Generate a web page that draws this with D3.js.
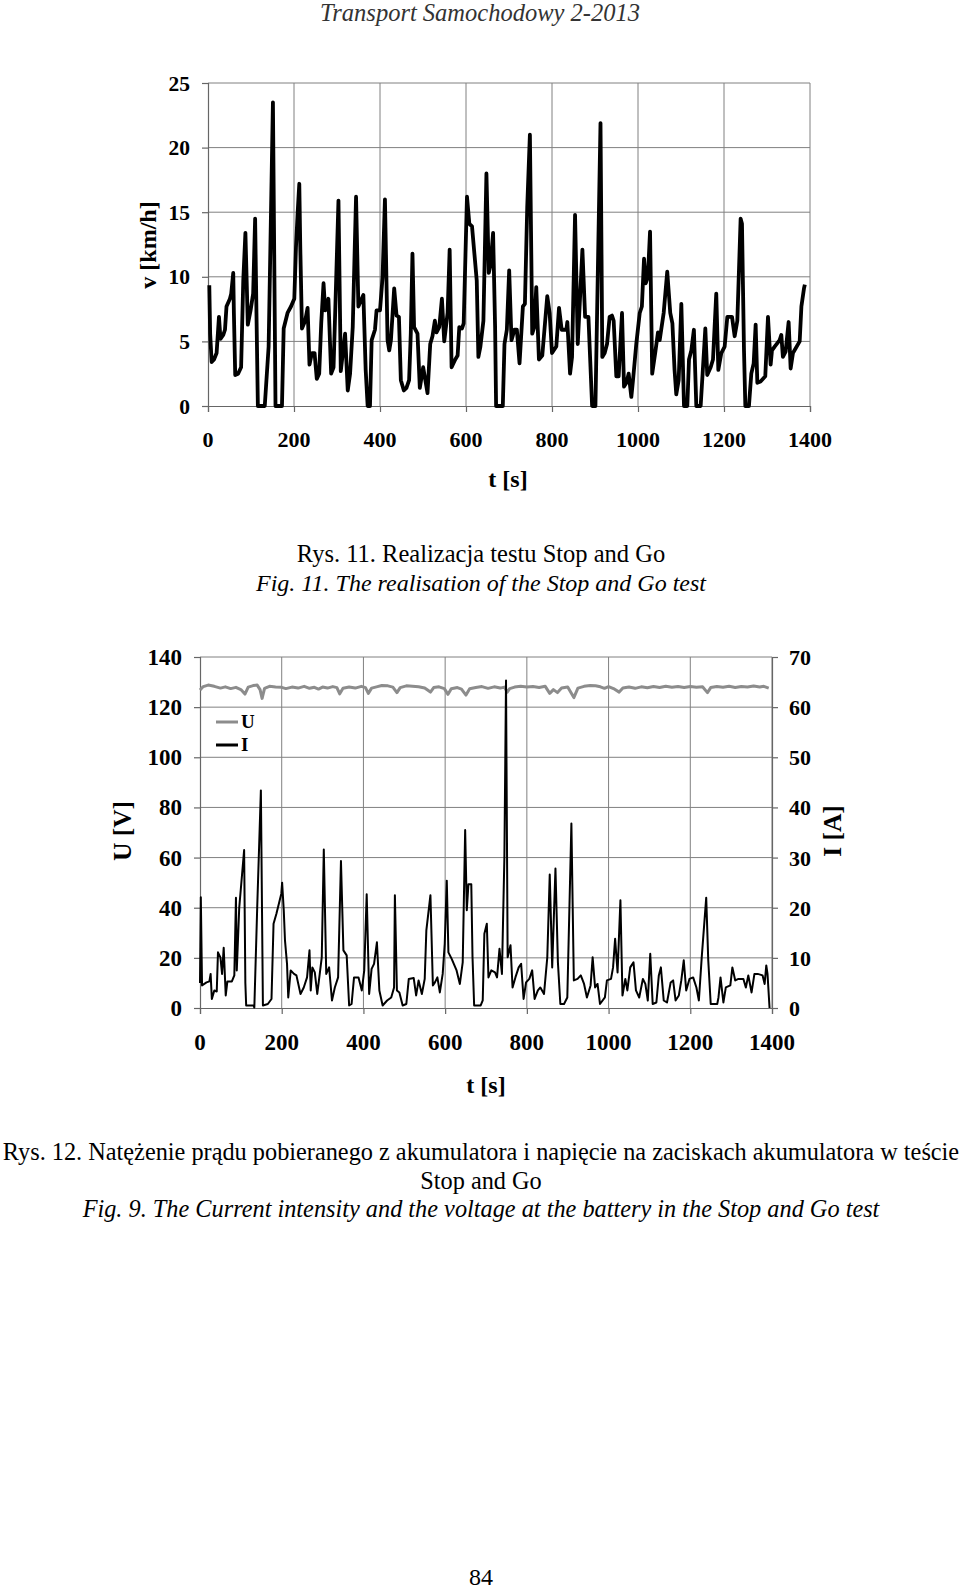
<!DOCTYPE html>
<html><head><meta charset="utf-8">
<script src="https://cdn.jsdelivr.net/npm/d3@7"></script>
<style>
body{margin:0;background:#fff}
svg text{font-family:"Liberation Serif","Times New Roman",serif;fill:#000}
</style></head>
<body><svg id="c" width="960" height="1589"></svg>
<script>
// ---------- Chart 1: speed ----------
const speedT=[3,5,8.5,14,20,25.5,29,35.5,39.5,43,51,54,58.7,60.2,63.3,70,77,82,87,92.6,99,105,109.6,112.7,116,132,141,151,157,172,176,185,193,200.7,204.6,208.4,212.3,214.6,218.5,226,231.6,236,241.6,247.8,253,258.6,263.3,268.7,272.5,280,286.4,292,298,303.4,308.8,318.8,325,330.4,336.6,344.3,349.7,361.3,366.7,371.3,376.7,380.6,388.3,392,400,406,411.5,417.6,421.5,425.4,433,438.5,444,448.5,455.5,461.5,467.7,471.6,475.5,479.3,487.2,492.6,500.4,510.5,516.8,522,527.6,531.5,537.8,544,549.4,557.2,562,566.5,575,580.5,584.4,590.7,594.6,602.3,607.8,614,619.5,625,628.8,633.5,640.5,647.5,653,657,663,667.7,670,685.6,689.5,695,700.4,705.8,712.8,718.3,724.5,732.3,737,742.4,748.6,754,758.7,763.4,769.6,777.4,789,794.5,800,810,816.3,822.5,833.4,835.7,842,846.6,853.6,859.9,870.7,877,884.7,893.3,901,912.8,917,922.5,928,934,939.5,943.4,949.6,955,962.8,967.5,973,978.3,984.5,988.4,996,1004,1009,1014,1018,1023,1028,1033,1040,1046.5,1050.4,1059.7,1068,1075,1080,1085,1089,1094.6,1100.8,1107,1114.7,1118.6,1124,1130,1135.6,1145.7,1156.6,1161,1169,1174.4,1182,1186.8,1193.8,1201.5,1207.7,1218.6,1224.8,1231,1238.7,1241.8,1246.5,1249.6,1258,1263.5,1269,1273.6,1277.5,1285,1296,1302.3,1308.5,1311.6,1317.8,1329.4,1333.3,1337,1343.3,1350.3,1355,1360.4,1376,1380,1386,1388];
const speedV=[9.35,5.6,3.4,3.6,4.1,6.9,5.2,5.5,5.9,7.7,8.3,8.7,10.3,7.2,2.4,2.5,3.0,9.7,13.4,6.3,7.4,8.7,14.5,7.2,0,0,4.6,23.5,0,0,6.0,7.2,7.7,8.3,12.3,14.9,17.2,12.3,6.0,6.6,7.6,3.2,4.1,4.1,2.1,2.5,6.4,9.5,7.4,8.3,2.5,3.0,9.7,15.9,2.7,5.6,1.2,2.5,6.1,16.2,7.7,8.6,2.8,0,0,5.1,5.9,7.4,7.4,10.0,16.0,5.1,4.3,5.1,9.1,7.0,6.9,2.0,1.2,1.4,2.0,5.6,11.8,6.1,5.6,1.4,3.0,1.0,4.8,5.4,6.6,5.7,6.1,8.3,5.0,7.2,12.1,3.0,3.6,3.9,6.1,6.0,6.4,16.2,14.1,13.9,11.8,9.7,3.8,4.6,6.6,18.0,10.3,10.9,13.4,6.1,0,0,4.8,5.9,10.5,5.1,5.9,5.9,3.3,7.7,7.9,15.4,21.0,5.6,6.1,9.2,3.6,3.9,8.5,7.2,4.1,4.6,7.6,5.9,5.9,6.5,2.5,3.8,14.8,4.8,12.1,6.9,6.9,0,0,21.9,3.8,4.1,4.8,6.9,7.0,6.6,2.3,2.3,7.2,1.5,1.8,2.5,0.7,2.0,4.8,7.2,7.7,11.4,9.5,10.0,13.5,2.5,4.1,5.7,5.1,7.2,10.4,7.2,6.4,2.8,0.9,2.0,7.9,0,0,3.6,4.3,5.9,0,0,6.0,2.4,3.0,3.6,8.7,2.8,4.1,4.6,6.9,6.9,5.4,6.6,14.5,14.1,4.3,0,0,2.5,3.3,6.3,1.8,1.9,2.3,6.9,3.2,4.3,4.6,5.1,5.5,3.8,4.2,6.5,2.9,4.1,5.0,7.7,9.1,9.4];

// ---------- Chart 2: current and voltage ----------
const curT=[0,2,5,16,23,26,29,35,41,44,50,54,58,63,67,78,84,88,90,96,108,111,113,131,133,140,149,154,166,175,180,187,199,201,205,208,213,216,222,230,236,246,254,262,268,271,275,281,287,292,298,303,309,316,323,330,338,345,351,359,365,371,377,388,396,402,408,414,420,426,433,439,447,458,468,475,477,482,488,496,505,511,523,529,535,543,550,554,564,570,575,581,587,594,599,604,608,616,628,636,643,649,653,657,664,667,671,687,692,696,702,706,713,722,727,733,739,745,749,753,760,765,772,780,786,792,798,806,813,819,827,833,842,850,856,862,870,876,882,891,899,909,915,924,932,940,947,956,961,967,973,979,991,996,1006,1011,1016,1022,1029,1034,1041,1046,1053,1061,1067,1075,1084,1090,1096,1102,1108,1117,1123,1128,1135,1143,1152,1158,1164,1172,1178,1184,1190,1198,1207,1215,1221,1228,1239,1244,1250,1266,1269,1274,1281,1287,1298,1303,1310,1318,1330,1336,1342,1350,1357,1365,1377,1382,1386,1389,1394];
const curI=[5,22.1,4.5,5.1,5.3,6.8,1.8,3.5,3.3,11.1,10.1,6.8,12,2.5,5.3,5.3,6.5,22,7.5,20,31.5,5,0.5,0.5,0.1,20,43.4,0.5,0.8,1.8,16.8,18.8,22.8,25,19.5,13.5,8.8,2.1,7.5,6.8,6.5,2.8,4.1,6.1,11.5,3.5,8.1,7.1,2.8,6.1,10.1,31.6,6.8,8.1,1.5,4.1,6.1,29.3,11.5,10.5,0.5,0.8,6.1,6.1,3.5,7.5,22.7,2.8,7.8,8.8,13.1,3.5,0.5,1.5,2.1,4.1,22.5,3.5,3.1,0.5,0.8,5.8,6,2.5,5.5,2.8,5.8,15.5,22.5,4.5,5.1,6.1,3.1,6.8,12.8,25.4,11.1,9.8,7.5,4.8,9.1,35.5,19.5,24.7,24.7,10.1,0.5,0.5,1.5,14.8,16.8,6.1,7.5,7.1,6.1,11.8,6.8,30,65.3,10.1,12.5,4.1,6.1,8.1,8.8,1.8,5.1,5.8,7.5,1.8,3.5,4.1,2.8,10.1,26.6,8.1,27.8,9.1,0.8,0.8,2.1,36.8,5.5,5.8,6.5,4.8,2.1,4.5,10.1,4.1,4.8,0.8,2.1,5.5,5.8,8.1,13.8,7.1,21.5,2.5,5.8,3.5,8.1,9.1,3.5,2.1,5.8,4.8,1.5,10.8,0.8,1.1,6.5,8.1,1.5,1.1,5.1,5.5,1.5,2.5,5.5,9.5,3.5,5.8,6.1,4.1,1.5,10.1,22,9.5,0.8,0.8,2.1,6.1,1.1,4.1,4.5,8.1,5.5,5.8,5.8,4.1,6.5,3.1,6.8,6.8,6.5,4.8,8.5,6.8,0];
const voltT=[0,8,20,35,50,62,75,88,100,110,118,130,140,147,152,158,170,185,200,210,225,240,255,268,280,290,300,312,325,335,342,350,365,380,395,405,412,420,432,445,460,472,482,490,505,520,535,550,564,572,585,598,607,615,630,640,651,660,675,690,705,720,735,745,752,758,770,785,800,815,830,845,856,865,875,885,900,915,925,940,955,968,980,990,1000,1012,1026,1035,1050,1065,1080,1095,1110,1125,1140,1155,1170,1185,1200,1215,1230,1242,1250,1265,1280,1295,1310,1325,1340,1355,1370,1380,1392];
const voltU=[126.8,128.2,128.8,128.3,127.6,128.1,127.4,127.9,127.0,125.2,128.0,128.6,128.8,127.0,123.5,127.5,128.3,128.0,127.9,127.4,128.0,127.6,128.3,127.5,127.9,127.2,128.0,127.6,128.2,127.8,125.3,127.5,128.0,127.6,128.3,127.8,125.5,127.6,128.1,128.6,128.5,128.0,125.8,127.8,128.5,128.3,128.1,127.6,126.0,127.8,128.1,127.4,125.1,127.3,127.8,127.2,124.8,127.3,127.8,128.2,127.5,128.1,127.6,128.0,126.0,127.4,128.0,128.3,128.0,128.2,127.8,128.3,125.5,127.0,125.8,127.6,128.0,123.8,127.6,128.3,128.6,128.5,128.1,127.5,128.2,127.4,126.0,127.6,128.0,127.5,128.1,127.7,128.2,127.8,128.3,127.9,128.2,127.8,128.2,127.9,128.1,125.8,127.8,128.2,127.9,128.3,127.8,128.2,128.0,128.4,128.0,128.3,127.6];

const tTicks=[0,200,400,600,800,1000,1200,1400];
const vTicks=[0,5,10,15,20,25];
const uTicks=[0,20,40,60,80,100,120,140];
const iTicks=[0,10,20,30,40,50,60,70];
const legendNames=["U","I"];

const svg=d3.select("#c");
const GRID="#808080";

function txt(x,y,s,opts={}){
  const t=svg.append("text").attr("x",x).attr("y",y).text(s)
    .attr("font-size",opts.size||22)
    .attr("text-anchor",opts.anchor||"middle");
  if(opts.bold) t.attr("font-weight","bold");
  if(opts.italic) t.attr("font-style","italic");
  if(opts.fill) t.style("fill",opts.fill);
  if(opts.rot) t.attr("transform",`rotate(${opts.rot},${x},${y})`);
  return t;
}

// Header
txt(480,21,"Transport Samochodowy 2-2013",{italic:true,size:24.5,fill:"#333"});

// ---------- Chart 1 ----------
{
  const x=d3.scaleLinear().domain([0,1400]).range([208,810]);
  const y=d3.scaleLinear().domain([0,25]).range([406,83]);
  const g=svg.append("g");
  g.selectAll(".vg").data(tTicks.slice(1)).join("line")
    .attr("x1",d=>x(d)).attr("x2",d=>x(d)).attr("y1",y(0)).attr("y2",y(25))
    .attr("stroke",GRID).attr("stroke-width",1);
  g.selectAll(".hg").data(vTicks.slice(1)).join("line")
    .attr("x1",x(0)).attr("x2",x(1400)).attr("y1",d=>y(d)).attr("y2",d=>y(d))
    .attr("stroke",GRID).attr("stroke-width",1);
  const xa=g.append("g").attr("transform",`translate(0,${y(0)})`)
    .call(d3.axisBottom(x).tickValues(tTicks).tickSize(6).tickFormat(""));
  const ya=g.append("g").attr("transform",`translate(${x(0)},0)`)
    .call(d3.axisLeft(y).tickValues(vTicks).tickSize(6).tickFormat(""));
  [xa,ya].forEach(a=>{a.selectAll("path,line").attr("stroke","#666").attr("stroke-width",1.2);});
  tTicks.forEach(t=>txt(x(t),447,t,{bold:true,size:22}));
  vTicks.forEach(v=>txt(190,y(v)+7.5,v,{bold:true,size:21.5,anchor:"end"}));
  const line=d3.line().x((d,i)=>x(speedT[i])).y((d,i)=>y(speedV[i]));
  g.append("path").attr("d",line(speedT)).attr("fill","none").attr("stroke","#000")
    .attr("stroke-width",3.8).attr("stroke-linejoin","round");
  txt(508,487,"t [s]",{bold:true,size:24});
  txt(156,245,"v [km/h]",{bold:true,size:24,rot:-90});
}

txt(481,562,"Rys. 11. Realizacja testu Stop and Go",{size:24.5});
txt(481,591,"Fig. 11. The realisation of the Stop and Go test",{size:24,italic:true});

// ---------- Chart 2 ----------
{
  const x=d3.scaleLinear().domain([0,1400]).range([200,772]);
  const yU=d3.scaleLinear().domain([0,140]).range([1008,657]);
  const yI=d3.scaleLinear().domain([0,70]).range([1008,657]);
  const g=svg.append("g");
  g.selectAll(".vg").data(tTicks.slice(1)).join("line")
    .attr("x1",d=>x(d)).attr("x2",d=>x(d)).attr("y1",yU(0)).attr("y2",yU(140))
    .attr("stroke",GRID).attr("stroke-width",1);
  g.selectAll(".hg").data(uTicks.slice(1)).join("line")
    .attr("x1",x(0)).attr("x2",x(1400)).attr("y1",d=>yU(d)).attr("y2",d=>yU(d))
    .attr("stroke",GRID).attr("stroke-width",1);
  const xa=g.append("g").attr("transform",`translate(0,${yU(0)})`)
    .call(d3.axisBottom(x).tickValues(tTicks).tickSize(6).tickFormat(""));
  const ya=g.append("g").attr("transform",`translate(${x(0)},0)`)
    .call(d3.axisLeft(yU).tickValues(uTicks).tickSize(6).tickFormat(""));
  const yb=g.append("g").attr("transform",`translate(${x(1400)},0)`)
    .call(d3.axisRight(yI).tickValues(iTicks).tickSize(6).tickFormat(""));
  [xa,ya,yb].forEach(a=>{a.selectAll("path,line").attr("stroke","#666").attr("stroke-width",1.2);});
  tTicks.forEach(t=>txt(x(t),1050,t,{bold:true,size:23}));
  uTicks.forEach(v=>txt(182,yU(v)+8,v,{bold:true,size:23,anchor:"end"}));
  iTicks.forEach(v=>txt(789,yI(v)+8,v,{bold:true,size:22,anchor:"start"}));
  const lineU=d3.line().x((d,i)=>x(voltT[i])).y((d,i)=>yU(voltU[i]));
  const lineI=d3.line().x((d,i)=>x(curT[i])).y((d,i)=>yI(curI[i]));
  g.append("path").attr("d",lineU(voltT)).attr("fill","none").attr("stroke","#8c8c8c")
    .attr("stroke-width",3).attr("stroke-linejoin","round");
  g.append("path").attr("d",lineI(curT)).attr("fill","none").attr("stroke","#000")
    .attr("stroke-width",2).attr("stroke-linejoin","round");
  const lg=g.append("g");
  legendNames.forEach((n,i)=>{
    const yy=722+i*23;
    lg.append("line").attr("x1",216).attr("x2",238).attr("y1",yy).attr("y2",yy)
      .attr("stroke",i===0?"#8c8c8c":"#000").attr("stroke-width",3);
    txt(241,yy+6,n,{bold:true,size:19,anchor:"start"});
  });
  txt(486,1093,"t [s]",{bold:true,size:24});
  txt(131,831,"U [V]",{bold:true,size:25.5,rot:-90});
  txt(841,831,"I [A]",{bold:true,size:25.5,rot:-90});
}

txt(481,1160,"Rys. 12. Natężenie prądu pobieranego z akumulatora i napięcie na zaciskach akumulatora w teście",{size:24.3});
txt(481,1189,"Stop and Go",{size:24.3});
txt(481,1217,"Fig. 9. The Current intensity and the voltage at the battery in the Stop and Go test",{size:24.3,italic:true});
txt(481,1585,"84",{size:24});
</script>
</body></html>
